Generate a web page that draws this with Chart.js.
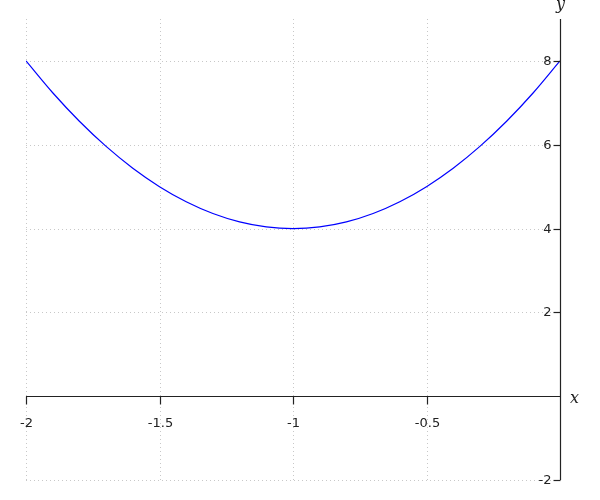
<!DOCTYPE html>
<html>
<head>
<meta charset="utf-8">
<script src="https://cdn.jsdelivr.net/npm/chart.js@4/dist/chart.umd.min.js"></script>
<style>
html,body{margin:0;padding:0;background:#fff;}
#wrap{width:600px;height:500px;}
</style>
</head>
<body>
<div id="wrap"><canvas id="c" width="600" height="500"></canvas></div>
<script>
const xValues = [-2, -1.9, -1.8, -1.7, -1.6, -1.5, -1.4, -1.3, -1.2, -1.1, -1, -0.9, -0.8, -0.7, -0.6, -0.5, -0.4, -0.3, -0.2, -0.1, 0];
const yValues = [8, 7.24, 6.56, 5.96, 5.44, 5.0, 4.64, 4.36, 4.16, 4.04, 4.0, 4.04, 4.16, 4.36, 4.64, 5.0, 5.44, 5.96, 6.56, 7.24, 8];
const xTicks = [-2, -1.5, -1, -0.5];
const xTickLabels = ['-2', '-1.5', '-1', '-0.5'];
const yTicks = [-2, 2, 4, 6, 8];
const yTickLabels = ['-2', '2', '4', '6', '8'];
const xRange = [-2, 0];
const yRange = [-2, 9];

const axesPlugin = {
  id: 'axesPlugin',
  beforeDatasetsDraw(chart) {
    const ctx = chart.ctx, xs = chart.scales.x, ys = chart.scales.y, a = chart.chartArea;
    ctx.save();
    ctx.strokeStyle = '#c8c8c8';
    ctx.lineWidth = 1;
    ctx.setLineDash([1, 3]);
    xTicks.forEach(v => {
      const px = Math.round(xs.getPixelForValue(v)) + 0.5;
      ctx.beginPath(); ctx.moveTo(px, a.top); ctx.lineTo(px, a.bottom); ctx.stroke();
    });
    yTicks.forEach(v => {
      const py = Math.round(ys.getPixelForValue(v)) + 0.5;
      ctx.beginPath(); ctx.moveTo(a.left, py); ctx.lineTo(a.right, py); ctx.stroke();
    });
    ctx.restore();
  },
  afterDatasetsDraw(chart) {
    const ctx = chart.ctx, xs = chart.scales.x, ys = chart.scales.y, a = chart.chartArea;
    const x0 = Math.round(xs.getPixelForValue(0)) + 0.5;
    const y0 = Math.round(ys.getPixelForValue(0)) + 0.5;
    ctx.save();
    ctx.strokeStyle = '#222';
    ctx.lineWidth = 1.2;
    ctx.setLineDash([]);
    ctx.beginPath(); ctx.moveTo(a.left, y0); ctx.lineTo(a.right, y0); ctx.stroke();
    ctx.beginPath(); ctx.moveTo(x0, a.top); ctx.lineTo(x0, a.bottom); ctx.stroke();
    ctx.fillStyle = '#222';
    ctx.font = '13px "DejaVu Sans"';
    ctx.textAlign = 'center';
    ctx.textBaseline = 'middle';
    xTicks.forEach((v, i) => {
      const px = Math.round(xs.getPixelForValue(v)) + 0.5;
      ctx.beginPath(); ctx.moveTo(px, y0); ctx.lineTo(px, y0 + 8); ctx.stroke();
      ctx.fillText(xTickLabels[i], px, y0 + 27);
    });
    ctx.textAlign = 'right';
    yTicks.forEach((v, i) => {
      const py = Math.round(ys.getPixelForValue(v)) + 0.5;
      ctx.beginPath(); ctx.moveTo(x0 - 7, py); ctx.lineTo(x0, py); ctx.stroke();
      ctx.fillText(yTickLabels[i], x0 - 9, py);
    });
    ctx.font = 'italic 16px "DejaVu Serif"';
    ctx.textAlign = 'center';
    ctx.fillText('y', x0, 5);
    ctx.textAlign = 'left';
    ctx.fillText('x', a.right + 10, y0 + 2);
    ctx.restore();
  }
};

new Chart(document.getElementById('c'), {
  type: 'line',
  data: {
    datasets: [{
      data: xValues.map((x, i) => ({x: x, y: yValues[i]})),
      borderColor: '#0000ff',
      borderWidth: 1.2,
      pointRadius: 0,
      cubicInterpolationMode: 'monotone',
      fill: false
    }]
  },
  options: {
    responsive: false,
    animation: false,
    devicePixelRatio: 1,
    layout: { padding: { left: 26, right: 40, top: 19, bottom: 20 } },
    plugins: { legend: { display: false }, tooltip: { enabled: false } },
    scales: {
      x: { type: 'linear', display: false, min: xRange[0], max: xRange[1] },
      y: { type: 'linear', display: false, min: yRange[0], max: yRange[1] }
    }
  },
  plugins: [axesPlugin]
});
</script>
</body>
</html>
